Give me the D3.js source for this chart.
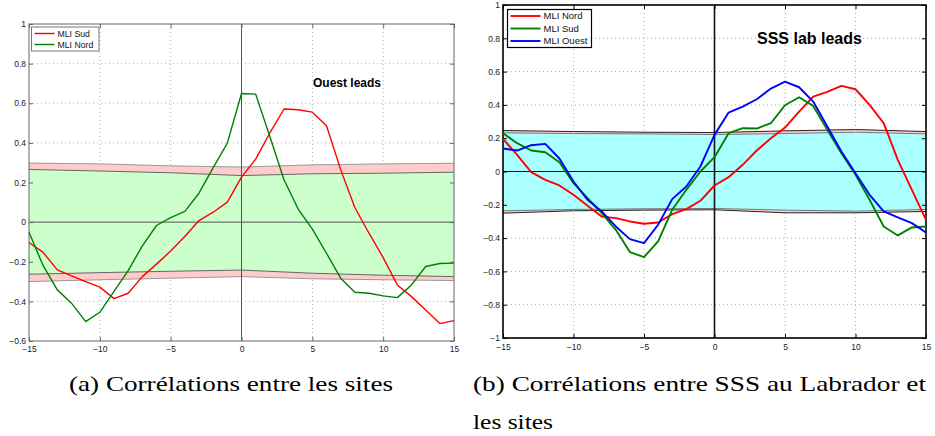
<!DOCTYPE html>
<html>
<head>
<meta charset="utf-8">
<script src="https://cdn.jsdelivr.net/npm/d3@7"></script>
<style>
  body { margin: 0; background: #fff; }
  svg { display: block; }
</style>
</head>
<body>
<div id="chart"></div>
<script>
// lags (months)
let lags = [-15,-14,-13,-12,-11,-10,-9,-8,-7,-6,-5,-4,-3,-2,-1,0,1,2,3,4,5,6,7,8,9,10,11,12,13,14,15]

// panel (a) : correlations between sites
let leftSud  = [-0.103,-0.153,-0.241,-0.271,-0.300,-0.328,-0.386,-0.359,-0.275,-0.212,-0.146,-0.073,0.008,0.050,0.101,0.227,0.318,0.450,0.571,0.567,0.555,0.486,0.265,0.074,-0.056,-0.179,-0.317,-0.376,-0.443,-0.512,-0.497]
let leftNord = [-0.051,-0.220,-0.342,-0.409,-0.502,-0.455,-0.350,-0.245,-0.120,-0.017,0.023,0.054,0.146,0.275,0.399,0.649,0.646,0.432,0.214,0.066,-0.035,-0.157,-0.283,-0.354,-0.359,-0.372,-0.381,-0.317,-0.224,-0.209,-0.207]

// panel (b) : SSS Labrador vs sites
let rightNord  = [0.196,0.100,-0.004,-0.050,-0.084,-0.140,-0.206,-0.270,-0.280,-0.300,-0.314,-0.306,-0.256,-0.226,-0.176,-0.084,-0.034,0.040,0.126,0.200,0.264,0.360,0.450,0.478,0.514,0.494,0.400,0.290,0.070,-0.110,-0.290]
let rightSud   = [0.230,0.170,0.126,0.116,0.056,-0.070,-0.160,-0.250,-0.350,-0.484,-0.514,-0.420,-0.230,-0.110,0.000,0.086,0.230,0.260,0.258,0.290,0.398,0.446,0.394,0.250,0.110,-0.020,-0.170,-0.330,-0.384,-0.336,-0.330]
let rightOuest = [0.138,0.126,0.158,0.166,0.078,-0.060,-0.170,-0.240,-0.330,-0.406,-0.430,-0.320,-0.166,-0.090,0.030,0.220,0.354,0.390,0.434,0.498,0.540,0.506,0.420,0.270,0.120,-0.010,-0.140,-0.240,-0.276,-0.310,-0.366]

// significance bands
let bandLags = [-15,-10,-5,0,5,10,15]
let leftUpOuter  = [0.298,0.294,0.284,0.278,0.289,0.294,0.297]
let leftUpInner  = [0.266,0.258,0.249,0.235,0.244,0.247,0.252]
let leftLowInner = [-0.263,-0.255,-0.248,-0.242,-0.258,-0.268,-0.275]
let leftLowOuter = [-0.300,-0.291,-0.283,-0.275,-0.286,-0.291,-0.295]
let rightUpOuter  = [0.246,0.240,0.236,0.234,0.244,0.252,0.240]
let rightUpInner  = [0.232,0.228,0.226,0.222,0.228,0.236,0.226]
let rightLowInner = [-0.236,-0.228,-0.224,-0.222,-0.232,-0.238,-0.228]
let rightLowOuter = [-0.250,-0.236,-0.232,-0.230,-0.248,-0.248,-0.240]

let xTicks = [-15,-10,-5,0,5,10,15]
let leftYTicks = [-0.6,-0.4,-0.2,0,0.2,0.4,0.6,0.8,1]
let rightYTicks = [-1,-0.8,-0.6,-0.4,-0.2,0,0.2,0.4,0.6,0.8,1]

let width = 935
let height = 436

let svg = d3.select('#chart')
  .append('svg')
    .attr('width', width)
    .attr('height', height)
    .style('font-family', '"Liberation Sans", Arial, sans-serif')

svg.append('rect').attr('width', width).attr('height', height).attr('fill', '#fff')

let fmt = d3.format('')

function panel(cfg) {
  let x = d3.scaleLinear().domain([-15, 15]).range(cfg.xr)
  let y = d3.scaleLinear().domain(cfg.yd).range(cfg.yr)
  let g = svg.append('g')

  // dotted grid
  g.selectAll('.gx')
    .data(xTicks.filter(d => d !== 0 && d !== -15 && d !== 15))
    .enter().append('line')
      .attr('x1', d => x(d)).attr('x2', d => x(d))
      .attr('y1', cfg.yr[1]).attr('y2', cfg.yr[0])
      .attr('stroke', '#aaa').attr('stroke-width', 1)
      .attr('stroke-dasharray', '1,3')
  g.selectAll('.gy')
    .data(cfg.yTicks.filter(d => d !== 0 && d !== cfg.yd[0] && d !== cfg.yd[1]))
    .enter().append('line')
      .attr('x1', cfg.xr[0]).attr('x2', cfg.xr[1])
      .attr('y1', d => y(d)).attr('y2', d => y(d))
      .attr('stroke', '#aaa').attr('stroke-width', 1)
      .attr('stroke-dasharray', '1,3')

  // bands
  let band = bandLags.map((l, i) => ({lag: l, hi: cfg.upOuter[i], lo: cfg.lowOuter[i], hi2: cfg.upInner[i], lo2: cfg.lowInner[i]}))
  g.append('path').datum(band)
    .attr('d', d3.area().x(d => x(d.lag)).y0(d => y(d.lo)).y1(d => y(d.hi)))
    .attr('fill', '#ffcccc')
  g.append('path').datum(band)
    .attr('d', d3.area().x(d => x(d.lag)).y0(d => y(d.lo2)).y1(d => y(d.hi2)))
    .attr('fill', cfg.innerFill)

  let edges = [['hi', cfg.outerEdge], ['hi2', cfg.innerEdge], ['lo2', cfg.innerEdge], ['lo', cfg.outerEdge]]
  edges.forEach(e => {
    g.append('path').datum(band)
      .attr('d', d3.line().x(d => x(d.lag)).y(d => y(d[e[0]])))
      .attr('fill', 'none').attr('stroke', e[1]).attr('stroke-width', 1)
  })

  // zero lines
  g.append('line')
    .attr('x1', cfg.xr[0]).attr('x2', cfg.xr[1])
    .attr('y1', y(0)).attr('y2', y(0))
    .attr('stroke', cfg.zeroColor).attr('stroke-width', 1)
  g.append('line')
    .attr('x1', x(0)).attr('x2', x(0))
    .attr('y1', cfg.yr[1]).attr('y2', cfg.yr[0])
    .attr('stroke', cfg.zeroColor).attr('stroke-width', cfg.zeroV)

  // axes (ticks inside, matlab style)
  let axes = [
    [d3.axisLeft(y).tickValues(cfg.yTicks).tickFormat(fmt).tickPadding(3), `translate(${cfg.xr[0]},0)`],
    [d3.axisRight(y).tickValues(cfg.yTicks).tickFormat(''), `translate(${cfg.xr[1]},0)`],
    [d3.axisBottom(x).tickValues(xTicks).tickFormat(fmt).tickPadding(cfg.xPad), `translate(0,${cfg.yr[0]})`],
    [d3.axisTop(x).tickValues(xTicks).tickFormat(''), `translate(0,${cfg.yr[1]})`]
  ]
  axes.forEach(a => {
    let ax = g.append('g').attr('transform', a[1])
      .call(a[0].tickSizeInner(-4).tickSizeOuter(0))
    ax.select('.domain').remove()
    ax.selectAll('line').attr('stroke', cfg.frameColor)
    ax.selectAll('text').attr('fill', '#222').style('font-size', '8.5px')
      .style('font-family', '"Liberation Sans", Arial, sans-serif')
  })

  // frame
  g.append('rect')
    .attr('x', cfg.xr[0]).attr('y', cfg.yr[1])
    .attr('width', cfg.xr[1] - cfg.xr[0]).attr('height', cfg.yr[0] - cfg.yr[1])
    .attr('fill', 'none').attr('stroke', cfg.frameColor).attr('stroke-width', cfg.frameWidth)

  // data lines
  let line = d3.line().x((d, i) => x(lags[i])).y(d => y(d))
  cfg.series.forEach(s => {
    g.append('path').datum(s.values)
      .attr('d', line)
      .attr('fill', 'none')
      .attr('stroke', s.color)
      .attr('stroke-width', cfg.lineWidth)
      .attr('stroke-linejoin', 'round')
  })

  // legend
  let lg = cfg.legend
  g.append('rect')
    .attr('x', lg.x).attr('y', lg.y).attr('width', lg.w).attr('height', lg.h)
    .attr('fill', '#fff').attr('stroke', lg.stroke).attr('stroke-width', lg.sw)
  cfg.series.forEach((s, i) => {
    let yy = lg.y + lg.first + i * lg.step
    g.append('line')
      .attr('x1', lg.x + 3).attr('x2', lg.x + 3 + lg.len)
      .attr('y1', yy).attr('y2', yy)
      .attr('stroke', s.color).attr('stroke-width', cfg.lineWidth)
    g.append('text')
      .attr('x', lg.x + 6 + lg.len).attr('y', yy)
      .attr('dy', '0.35em')
      .style('font-size', lg.fs + 'px')
      .attr('fill', '#111')
      .text(s.name)
  })

  // annotation
  g.append('text')
    .attr('x', cfg.note.x).attr('y', cfg.note.y)
    .style('font-size', cfg.note.fs + 'px')
    .style('font-weight', 'bold')
    .attr('fill', '#000')
    .text(cfg.note.text)
}

panel({
  xr: [29, 454], yd: [-0.6, 1], yr: [341, 24], yTicks: leftYTicks, xPad: 4.5,
  upOuter: leftUpOuter, upInner: leftUpInner, lowInner: leftLowInner, lowOuter: leftLowOuter,
  innerFill: '#ccffcc', outerEdge: '#999', innerEdge: '#666',
  zeroColor: '#555', zeroV: 1, frameColor: '#666', frameWidth: 1, lineWidth: 1.4,
  series: [
    {name: 'MLI Sud', values: leftSud, color: '#ff0000'},
    {name: 'MLI Nord', values: leftNord, color: '#008000'}
  ],
  legend: {x: 31.5, y: 27, w: 67.5, h: 24, first: 6.5, step: 11, len: 20, fs: 8.7, stroke: '#777', sw: 1},
  note: {text: 'Ouest leads', x: 313, y: 87, fs: 12}
})

panel({
  xr: [503, 926], yd: [-1, 1], yr: [338, 5], yTicks: rightYTicks, xPad: 6,
  upOuter: rightUpOuter, upInner: rightUpInner, lowInner: rightLowInner, lowOuter: rightLowOuter,
  innerFill: '#aaffff', outerEdge: '#222', innerEdge: '#777',
  zeroColor: '#111', zeroV: 1.6, frameColor: '#000', frameWidth: 1.6, lineWidth: 1.9,
  series: [
    {name: 'MLI Nord', values: rightNord, color: '#ff0000'},
    {name: 'MLI Sud', values: rightSud, color: '#008000'},
    {name: 'MLI Ouest', values: rightOuest, color: '#0000ff'}
  ],
  legend: {x: 507.5, y: 9.5, w: 84, h: 38, first: 6.5, step: 12.5, len: 30, fs: 9.5, stroke: '#000', sw: 1.2},
  note: {text: 'SSS lab leads', x: 757, y: 44, fs: 16}
})

// captions
let captions = [
  {text: '(a) Corrélations entre les sites', x: 69, y: 391, len: 324},
  {text: '(b) Corrélations entre SSS au Labrador et', x: 473, y: 391, len: 453},
  {text: 'les sites', x: 473, y: 429, len: 80}
]
svg.selectAll('.cap').data(captions).enter().append('text')
  .attr('x', d => d.x).attr('y', d => d.y)
  .attr('textLength', d => d.len)
  .attr('lengthAdjust', 'spacingAndGlyphs')
  .style('font-family', '"Liberation Serif", "Times New Roman", serif')
  .style('font-size', '21px')
  .attr('fill', '#000')
  .text(d => d.text)
</script>
</body>
</html>
